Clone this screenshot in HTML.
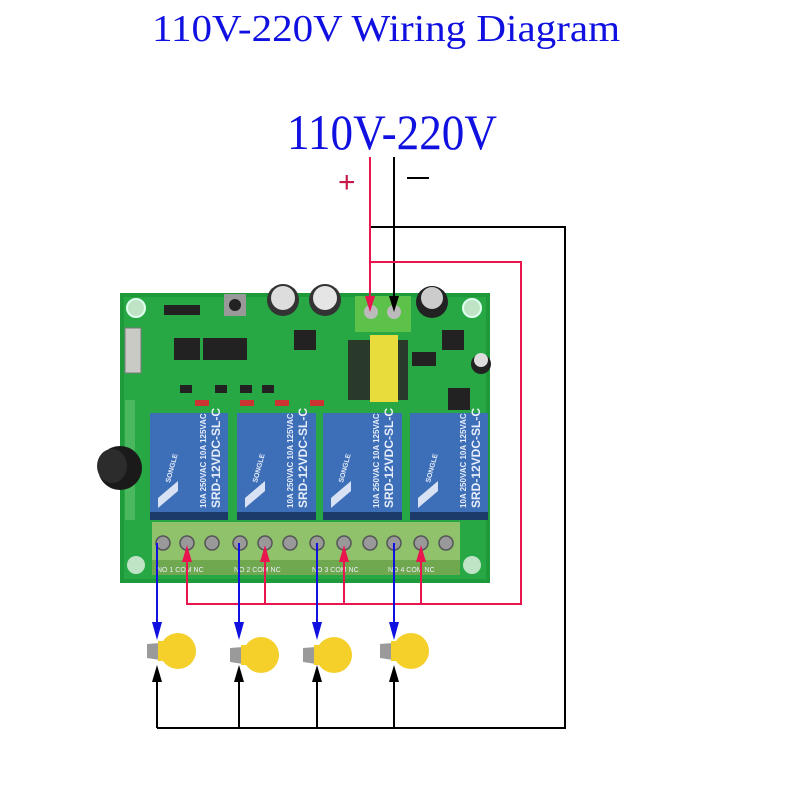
<!DOCTYPE html>
<html><head><meta charset="utf-8"><style>html,body{margin:0;padding:0;background:#fff}svg{display:block}</style></head>
<body>
<svg width="801" height="801" viewBox="0 0 801 801" xmlns="http://www.w3.org/2000/svg">
<text x="152" y="41" font-family="Liberation Serif, serif" font-size="38" fill="#1010e0" textLength="468" lengthAdjust="spacingAndGlyphs">110V-220V Wiring Diagram</text>
<text x="287" y="149" font-family="Liberation Serif, serif" font-size="50" fill="#1010e0" textLength="210" lengthAdjust="spacingAndGlyphs">110V-220V</text>
<text x="338" y="192" font-family="Liberation Sans, sans-serif" font-size="30" fill="#c81848">+</text>
<rect x="407" y="177" width="22" height="2" fill="#000"/>

<!-- board -->
<rect x="120" y="293" width="370" height="290" fill="#1f9a3a"/>
<rect x="124" y="297" width="362" height="282" fill="#27a845"/>
<circle cx="136" cy="308" r="9" fill="#bfe3c5" stroke="#dfe" stroke-width="2"/>
<circle cx="472" cy="308" r="9" fill="#bfe3c5" stroke="#dfe" stroke-width="2"/>
<circle cx="136" cy="565" r="9" fill="#bfe3c5"/>
<circle cx="472" cy="565" r="9" fill="#bfe3c5"/>
<rect x="125" y="328" width="16" height="45" fill="#c9c9c5" stroke="#777"/>
<rect x="164" y="305" width="36" height="10" fill="#222"/>
<rect x="224" y="294" width="22" height="22" fill="#999"/><circle cx="235" cy="305" r="6" fill="#222"/>
<rect x="174" y="338" width="26" height="22" fill="#222"/>
<rect x="203" y="338" width="44" height="22" fill="#222"/>
<circle cx="283" cy="300" r="16" fill="#333"/><circle cx="283" cy="298" r="12" fill="#ddd"/>
<circle cx="325" cy="300" r="16" fill="#333"/><circle cx="325" cy="298" r="12" fill="#e5e5e5"/>
<circle cx="432" cy="302" r="16" fill="#222"/><circle cx="432" cy="298" r="11" fill="#ccc"/>
<circle cx="481" cy="364" r="10" fill="#222"/><circle cx="481" cy="360" r="7" fill="#ddd"/>
<rect x="442" y="330" width="22" height="20" fill="#222"/>
<rect x="412" y="352" width="24" height="14" fill="#222"/>
<rect x="448" y="388" width="22" height="22" fill="#222"/>
<rect x="294" y="330" width="22" height="20" fill="#222"/>
<rect x="355" y="296" width="56" height="36" fill="#5cc24a"/>
<circle cx="371" cy="312" r="7" fill="#bbb"/><circle cx="394" cy="312" r="7" fill="#bbb"/>
<rect x="348" y="340" width="60" height="60" fill="#2a3a2a"/>
<rect x="370" y="335" width="28" height="67" fill="#e8dc3c"/>
<rect x="180" y="385" width="12" height="8" fill="#222"/><rect x="215" y="385" width="12" height="8" fill="#222"/><rect x="240" y="385" width="12" height="8" fill="#222"/><rect x="262" y="385" width="12" height="8" fill="#222"/>
<rect x="195" y="400" width="14" height="6" fill="#c33"/><rect x="240" y="400" width="14" height="6" fill="#c33"/><rect x="275" y="400" width="14" height="6" fill="#c33"/><rect x="310" y="400" width="14" height="6" fill="#c33"/>
<rect x="125" y="400" width="10" height="120" fill="#4bb860"/>
<!-- relays -->
<g font-family="Liberation Sans, sans-serif" fill="#e8eefb" font-weight="bold">
<g transform="translate(150,413)"><rect width="78" height="107" fill="#1c3a6a"/><rect width="78" height="99" fill="#3d6eb8"/><text transform="translate(70,95) rotate(-90)" font-size="12">SRD-12VDC-SL-C</text><text transform="translate(56,95) rotate(-90)" font-size="8">10A 250VAC 10A 125VAC</text><text transform="translate(20,70) rotate(-75)" font-size="7">SONGLE</text><path d="M8,85 L28,68 L28,78 L8,95Z" fill="#d8e2f4"/></g>
<g transform="translate(237,413)"><rect width="79" height="107" fill="#1c3a6a"/><rect width="79" height="99" fill="#3d6eb8"/><text transform="translate(70,95) rotate(-90)" font-size="12">SRD-12VDC-SL-C</text><text transform="translate(56,95) rotate(-90)" font-size="8">10A 250VAC 10A 125VAC</text><text transform="translate(20,70) rotate(-75)" font-size="7">SONGLE</text><path d="M8,85 L28,68 L28,78 L8,95Z" fill="#d8e2f4"/></g>
<g transform="translate(323,413)"><rect width="79" height="107" fill="#1c3a6a"/><rect width="79" height="99" fill="#3d6eb8"/><text transform="translate(70,95) rotate(-90)" font-size="12">SRD-12VDC-SL-C</text><text transform="translate(56,95) rotate(-90)" font-size="8">10A 250VAC 10A 125VAC</text><text transform="translate(20,70) rotate(-75)" font-size="7">SONGLE</text><path d="M8,85 L28,68 L28,78 L8,95Z" fill="#d8e2f4"/></g>
<g transform="translate(410,413)"><rect width="78" height="107" fill="#1c3a6a"/><rect width="78" height="99" fill="#3d6eb8"/><text transform="translate(70,95) rotate(-90)" font-size="12">SRD-12VDC-SL-C</text><text transform="translate(56,95) rotate(-90)" font-size="8">10A 250VAC 10A 125VAC</text><text transform="translate(20,70) rotate(-75)" font-size="7">SONGLE</text><path d="M8,85 L28,68 L28,78 L8,95Z" fill="#d8e2f4"/></g>
</g>
<!-- knob -->
<ellipse cx="120" cy="468" rx="22" ry="22" fill="#1a1a1a"/><ellipse cx="112" cy="466" rx="15" ry="17" fill="#2c2c2c"/>
<!-- terminal strip -->
<rect x="152" y="522" width="308" height="38" fill="#8fc26a"/>
<rect x="152" y="560" width="308" height="15" fill="#6fa84e"/>
<g fill="#999" stroke="#555" stroke-width="1.5">
<circle cx="163" cy="543" r="7"/><circle cx="187" cy="543" r="7"/><circle cx="212" cy="543" r="7"/><circle cx="240" cy="543" r="7"/><circle cx="265" cy="543" r="7"/><circle cx="290" cy="543" r="7"/><circle cx="317" cy="543" r="7"/><circle cx="344" cy="543" r="7"/><circle cx="370" cy="543" r="7"/><circle cx="394" cy="543" r="7"/><circle cx="421" cy="543" r="7"/><circle cx="446" cy="543" r="7"/>
</g>
<g font-family="Liberation Sans, sans-serif" font-size="7" fill="#eef">
<text x="157" y="572">NO 1 COM   NC</text><text x="234" y="572">NO 2 COM   NC</text><text x="312" y="572">NO 3 COM   NC</text><text x="388" y="572">NO 4 COM   NC</text>
</g>

<!-- black wires -->
<g stroke="#000" stroke-width="2" fill="none">
<polyline points="370,227 565,227 565,728 157,728"/>
<line x1="394" y1="157" x2="394" y2="296"/>
<line x1="157" y1="728" x2="157" y2="680"/><line x1="239" y1="728" x2="239" y2="680"/><line x1="317" y1="728" x2="317" y2="680"/><line x1="394" y1="728" x2="394" y2="680"/>
</g>
<g fill="#000"><path d="M389,296h10l-5,16z"/><path d="M152,682h10l-5,-17z"/><path d="M234,682h10l-5,-17z"/><path d="M312,682h10l-5,-17z"/><path d="M389,682h10l-5,-17z"/></g>
<!-- red wires -->
<g stroke="#e8154f" stroke-width="2" fill="none">
<line x1="370" y1="157" x2="370" y2="296"/>
<polyline points="370,262 521,262 521,604 187,604 187,560"/>
<line x1="265" y1="604" x2="265" y2="560"/><line x1="344" y1="604" x2="344" y2="560"/><line x1="421" y1="604" x2="421" y2="560"/>
</g>
<g fill="#e8154f"><path d="M365,296h10l-5,16z"/><path d="M182,562h10l-5,-17z"/><path d="M260,562h10l-5,-17z"/><path d="M339,562h10l-5,-17z"/><path d="M416,562h10l-5,-17z"/></g>
<!-- blue wires -->
<g stroke="#1010e0" stroke-width="2"><line x1="157" y1="543" x2="157" y2="625"/><line x1="239" y1="543" x2="239" y2="625"/><line x1="317" y1="543" x2="317" y2="625"/><line x1="394" y1="543" x2="394" y2="625"/></g>
<g fill="#1010e0"><path d="M152,622h10l-5,18z"/><path d="M234,622h10l-5,18z"/><path d="M312,622h10l-5,18z"/><path d="M389,622h10l-5,18z"/></g>
<!-- bulbs -->
<g id="b">
<path d="M147,644 L160,643 L160,660 L147,658 Z" fill="#9a9a9a"/>
<circle cx="178" cy="651" r="18" fill="#f5cf2a"/>
<rect x="158" y="641" width="8" height="20" fill="#f5cf2a"/>
</g>
<use href="#b" x="83" y="4"/><use href="#b" x="156" y="4"/><use href="#b" x="233" y="0"/>
</svg>
</body></html>
